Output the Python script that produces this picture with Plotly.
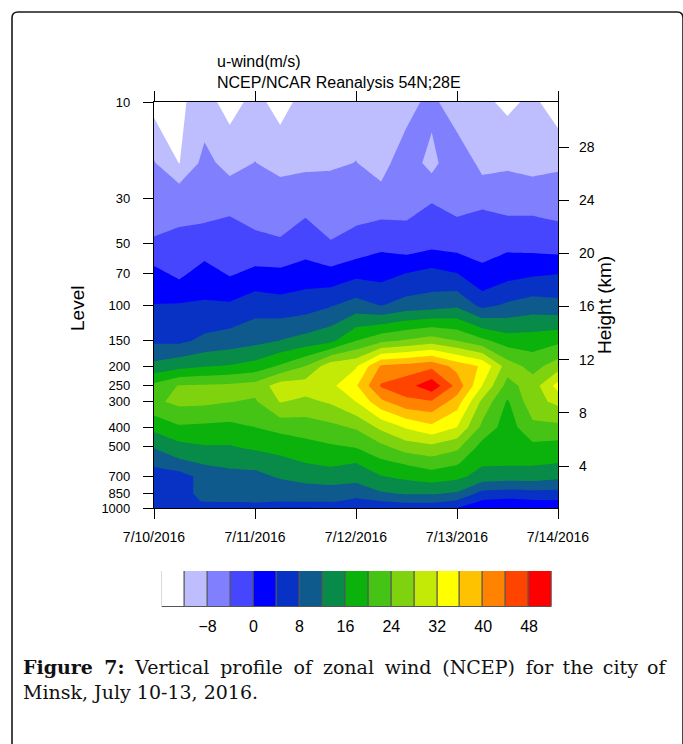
import plotly.graph_objects as go

W, H = 683, 744

# ---------------- data ----------------
times = ["2016-07-10 00:00", "2016-07-10 06:00", "2016-07-10 12:00", "2016-07-10 18:00",
         "2016-07-11 00:00", "2016-07-11 06:00", "2016-07-11 12:00", "2016-07-11 18:00",
         "2016-07-12 00:00", "2016-07-12 06:00", "2016-07-12 12:00", "2016-07-12 18:00",
         "2016-07-13 00:00", "2016-07-13 06:00", "2016-07-13 12:00", "2016-07-13 18:00",
         "2016-07-14 00:00"]
levels = [1000, 925, 850, 700, 600, 500, 400, 300, 250, 200, 150, 100, 70, 50, 30, 20, 10]

u_1000 = [5.0, 5.5, 4.5, 4.5, 4.5, 3.8, 3.8, 4.0, 4.5, 5.0, 5.0, 5.0, 4.0, 2.0, 2.0, 2.0, 2.0]
u_925 = [6.0, 6.5, 8.3, 8.5, 9.0, 8.3, 8.5, 8.5, 7.0, 8.0, 9.0, 9.0, 7.5, 3.5, 3.0, 3.5, 3.5]
u_850 = [6.0, 6.5, 9.2, 9.5, 10.0, 9.5, 10.5, 10.5, 9.5, 11.5, 12.3, 12.3, 11.5, 6.5, 6.0, 6.5, 6.5]
u_700 = [4.8, 6.1, 9.5, 10.6, 11.1, 12.4, 13.0, 13.5, 13.5, 15.8, 17.0, 18.0, 17.0, 14.5, 14.0, 14.0, 13.0]
u_600 = [9.3, 11.0, 12.4, 13.0, 13.0, 15.3, 16.0, 17.0, 16.0, 19.0, 20.5, 22.0, 20.5, 16.5, 16.5, 16.5, 16.0]
u_500 = [12.3, 14.8, 15.7, 15.7, 16.8, 16.8, 18.5, 19.5, 20.2, 23.0, 26.0, 27.0, 25.0, 18.5, 17.5, 19.0, 18.5]
u_400 = [17.2, 19.5, 19.2, 18.9, 20.0, 21.5, 22.0, 23.0, 24.5, 29.0, 32.5, 35.0, 32.0, 23.0, 18.0, 23.0, 23.0]
u_300 = [23.2, 25.0, 24.8, 24.1, 23.5, 28.2, 27.0, 28.5, 32.0, 39.0, 43.0, 43.5, 38.0, 27.0, 19.5, 26.5, 29.0]
u_250 = [21.0, 24.3, 24.5, 24.8, 25.5, 30.0, 30.0, 31.0, 35.5, 44.5, 46.5, 50.7, 42.75, 32.0, 22.5, 26.0, 33.5]
u_200 = [13.1, 14.6, 15.7, 16.3, 17.5, 20.5, 24.0, 30.5, 31.5, 40.5, 41.5, 43.0, 38.5, 35.5, 26.0, 22.5, 26.0]
u_150 = [7.3, 7.1, 8.9, 9.8, 10.8, 12.1, 13.5, 15.0, 20.0, 23.0, 24.5, 26.0, 24.0, 21.0, 18.0, 18.0, 19.0]
u_100 = [4.1, 4.3, 4.4, 4.5, 6.3, 5.5, 6.0, 7.6, 9.5, 7.8, 9.5, 10.0, 11.1, 6.8, 8.6, 9.8, 9.2]
u_70 = [1.3, -1.0, 2.0, -0.44, 1.0, 0.9, 2.0, 1.2, 2.9, 2.5, 4.1, 5.2, 4.1, 0.45, 2.5, 3.4, 3.9]
u_50 = [-3.8, -3.4, -2.7, -1.8, -3.1, -3.7, -2.2, -3.9, -3.0, -0.95, -2.4, -1.2, -1.76, -0.8, -1.0, -1.5, -2.2]
u_30 = [-5.0, -5.0, -5.5, -5.4, -6.0, -5.65, -5.3, -5.0, -5.5, -6.6, -5.5, -4.3, -5.5, -5.0, -5.8, -5.5, -5.8]
u_20 = [-7.7, -12.1, -6.7, -9.5, -7.9, -9.5, -8.9, -8.8, -7.9, -9.5, -5.5, -9.5, -4.1, -9.5, -8.6, -9.5, -8.7]
u_10 = [-13.5, -12.6, -10.5, -13.5, -10.8, -13.5, -10.5, -10.0, -10.0, -10.0, -9.8, -6.5, -11.8, -11.0, -13.0, -11.0, -14.5]

contour_start, contour_end, contour_step = -12, 48, 4
band_colors = ["#FFFFFF", "#BEBEFF", "#8080FF", "#4646FF", "#0000FF", "#0832C4",
               "#0E5A8C", "#088A48", "#0CB20C", "#46C416", "#7ED20E", "#C3EA06",
               "#FFFF00", "#FFC200", "#FF8200", "#FF4400", "#FF0000"]
cbar_labels = [-8, 0, 8, 16, 24, 32, 40, 48]

day_ticks = ["2016-07-10", "2016-07-11", "2016-07-12", "2016-07-13", "2016-07-14"]
day_labels = ["7/10/2016", "7/11/2016", "7/12/2016", "7/13/2016", "7/14/2016"]
pressure_ticks = [10, 30, 50, 70, 100, 150, 200, 250, 300, 400, 500, 700, 850, 1000]
height_ticks = [4, 8, 12, 16, 20, 24, 28]
height_range = [0.84, 31.39]

caption_line1_words = ["<b>Figure", "7:</b>", "Vertical", "profile", "of", "zonal", "wind",
                       "(NCEP)", "for", "the", "city", "of"]
caption_line2 = "Minsk, July 10-13, 2016."

# --------------- build ---------------
z = [u_1000, u_925, u_850, u_700, u_600, u_500, u_400, u_300, u_250, u_200,
     u_150, u_100, u_70, u_50, u_30, u_20, u_10]
nb = len(band_colors)
colorscale = [[k / (nb - 1), c] for k, c in enumerate(band_colors)]
bin_centers = [contour_start - contour_step / 2 + contour_step * k for k in range(nb)]


def px(x):
    return x / W


def py(y):
    return 1 - y / H


FONT = "Liberation Sans, Arial, Helvetica, sans-serif"

fig = go.Figure()
fig.add_trace(go.Contour(
    x=times, y=levels, z=z,
    autocontour=False,
    contours=dict(start=contour_start, end=contour_end, size=contour_step, coloring="fill"),
    colorscale=colorscale, showscale=False,
    line=dict(width=0, smoothing=0), hoverinfo="skip",
    xaxis="x", yaxis="y",
))
# helper trace so the height axis is drawn
fig.add_trace(go.Scatter(x=[times[0], times[-1]], y=height_range, mode="lines",
                         line=dict(width=0), opacity=0, hoverinfo="skip",
                         xaxis="x", yaxis="y2", showlegend=False))
# label bar
fig.add_trace(go.Bar(x=bin_centers, y=[1] * nb, width=contour_step, base=0,
                     marker=dict(color=band_colors, line=dict(color="#555555", width=1)),
                     hoverinfo="skip", xaxis="x2", yaxis="y3", showlegend=False))

axis_common = dict(showline=True, linecolor="black", linewidth=1.2, ticks="outside",
                   ticklen=10, tickwidth=1.2, tickcolor="black", showgrid=False,
                   zeroline=False, automargin=False)
tick14 = dict(family=FONT, size=14, color="black")

fig.update_layout(
    width=W, height=H, margin=dict(l=0, r=0, t=0, b=0, pad=0, autoexpand=False),
    paper_bgcolor="white", plot_bgcolor="white", showlegend=False,
    xaxis=dict(domain=[px(154), px(558)], anchor="y", type="date",
               range=[day_ticks[0], day_ticks[-1]], tickvals=day_ticks, ticktext=day_labels,
               mirror="allticks", ticklabelstandoff=6, tickfont=tick14, **axis_common),
    yaxis=dict(domain=[py(508), py(102)], anchor="x", type="log",
               range=[3, 1], tickvals=pressure_ticks, ticktext=[str(p) for p in pressure_ticks],
               ticklabelstandoff=10, tickfont=dict(family=FONT, size=13, color="black"),
               **axis_common),
    yaxis2=dict(overlaying="y", side="right", anchor="x", range=height_range,
                tickvals=height_ticks, ticklabelstandoff=7, tickfont=tick14, **axis_common),
    xaxis2=dict(domain=[px(161.7), px(552)], anchor="y3", range=[bin_centers[0] - 2, bin_centers[-1] + 2],
                tickvals=cbar_labels, showline=False, showgrid=False, zeroline=False,
                automargin=False, ticks="outside", ticklen=5, tickcolor="rgba(0,0,0,0)",
                tickfont=dict(family=FONT, size=16, color="black")),
    yaxis3=dict(domain=[py(607), py(571)], anchor="x2", range=[0, 1], visible=False,
                automargin=False),
    bargap=0,
)

border = (f"M {px(12)},{py(744)} L {px(12)},{py(18)} Q {px(12)},{py(12)} {px(18)},{py(12)} "
          f"L {px(677)},{py(12)} Q {px(683)},{py(12)} {px(683)},{py(18)} L {px(683)},{py(744)}")
fig.add_shape(type="path", path=border, xref="paper", yref="paper",
              line=dict(color="#1a1a1a", width=1.6))

ann = []
ann.append(dict(text="u-wind(m/s)", x=px(215), y=py(61), xanchor="left", yanchor="middle",
                font=dict(family=FONT, size=16, color="black")))
ann.append(dict(text="NCEP/NCAR Reanalysis 54N;28E", x=px(215), y=py(82), xanchor="left",
                yanchor="middle", font=dict(family=FONT, size=16, color="black")))
ann.append(dict(text="Level", x=px(77), y=py(309), textangle=-90, xanchor="center", yanchor="middle",
                font=dict(family=FONT, size=19, color="black")))
ann.append(dict(text="Height (km)", x=px(604), y=py(305), textangle=-90, xanchor="center",
                yanchor="middle", font=dict(family=FONT, size=19, color="black")))

# justified first caption line: widen the 11 word gaps a little
SERIF = "DejaVu Serif, serif"
gaps = [" \u2005"] * 8 + [" \u2006"] * 3
line1 = caption_line1_words[0]
for g, w in zip(gaps, caption_line1_words[1:]):
    line1 += g + w
ann.append(dict(text=line1, x=px(21), y=py(667), xanchor="left", yanchor="middle",
                font=dict(family=SERIF, size=19, color="#111111")))
ann.append(dict(text=caption_line2, x=px(21), y=py(692), xanchor="left",
                yanchor="middle", font=dict(family=SERIF, size=19, color="#111111")))
for a in ann:
    a.update(xref="paper", yref="paper", showarrow=False)
fig.update_layout(annotations=ann)

fig.write_html("out.html")
